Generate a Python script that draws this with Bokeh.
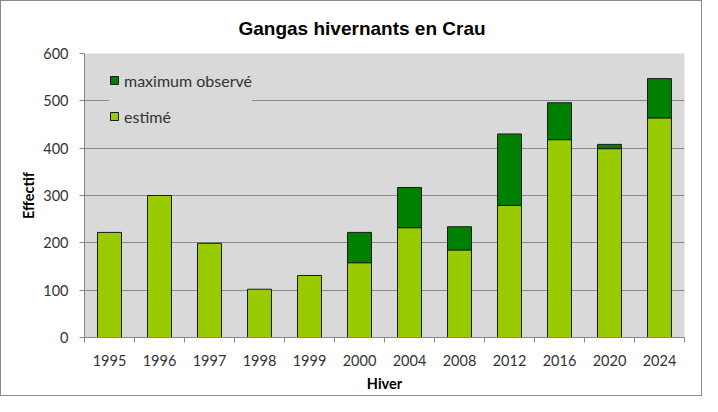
from bokeh.plotting import figure
from bokeh.models import FixedTicker, Legend, LegendItem, ColumnDataSource, Range1d
from bokeh.embed import file_html
from bokeh.resources import INLINE

# ---- data ----
years = ["1995", "1996", "1997", "1998", "1999", "2000", "2004", "2008", "2012", "2016", "2020", "2024"]
estime = [222, 300, 199, 102, 131, 158, 232, 185, 279, 418, 399, 464]
maximum = [None, None, None, None, None, 222, 317, 234, 430, 496, 408, 547]
y_ticks = [0, 100, 200, 300, 400, 500, 600]

LIGHT = "#99CC00"
DARK = "#008000"
FONT = "Lato"

n = len(years)
centers = [i + 0.5 for i in range(n)]
bounds = [float(i) for i in range(n + 1)]

src_est = ColumnDataSource(dict(x=centers, top=estime, bottom=[0] * n))
mx_x, mx_top, mx_bot = [], [], []
for c, e, m in zip(centers, estime, maximum):
    if m is not None:
        mx_x.append(c)
        mx_top.append(m)
        mx_bot.append(e)
src_max = ColumnDataSource(dict(x=mx_x, top=mx_top, bottom=mx_bot))

p = figure(width=702, height=396, output_backend="svg", toolbar_location=None,
           x_range=Range1d(0, n), y_range=Range1d(0, 600),
           min_border_left=83, min_border_right=19, min_border_top=52, min_border_bottom=60)
p.styles = {"border": "1px solid #8a8a8a"}

p.background_fill_color = "#D9D9D9"
p.border_fill_color = "white"
p.outline_line_color = None

r_est = p.vbar(x="x", top="top", bottom="bottom", width=0.48, source=src_est,
               fill_color=LIGHT, line_color="#1a1a1a", line_width=1)
r_max = p.vbar(x="x", top="top", bottom="bottom", width=0.48, source=src_max,
               fill_color=DARK, line_color="#1a1a1a", line_width=1)

# title
p.title.text = "Gangas hivernants en Crau"
p.title.text_font = "Liberation Sans"
p.title.text_font_size = "19px"
p.title.text_font_style = "bold"
p.title.text_color = "black"
p.title.align = "left"
p.title.offset = 154
p.title.standoff = 29

# grid
p.xgrid.grid_line_color = None
p.ygrid.grid_line_color = "#8a8a8a"
p.ygrid.grid_line_width = 1

# y axis
ya = p.yaxis[0]
ya.ticker = FixedTicker(ticks=y_ticks)
ya.axis_line_color = "#868686"
ya.major_tick_line_color = "#868686"
ya.major_tick_out = 5
ya.major_tick_in = 0
ya.minor_tick_line_color = None
ya.major_label_text_font = FONT
ya.major_label_text_font_size = "14.5px"
ya.major_label_text_color = "#333333"
ya.major_label_standoff = 11
ya.axis_label = "Effectif"
ya.axis_label_text_font = FONT
ya.axis_label_text_font_size = "14.5px"
ya.axis_label_text_font_style = "bold"
ya.axis_label_text_color = "black"
ya.axis_label_standoff = 3

# x axis
xa = p.xaxis[0]
xa.ticker = FixedTicker(ticks=centers, minor_ticks=bounds)
xa.major_label_overrides = {c: y for c, y in zip(centers, years)}
xa.axis_line_color = "#868686"
xa.major_tick_line_color = None
xa.major_tick_out = 0
xa.major_tick_in = 0
xa.minor_tick_line_color = "#868686"
xa.minor_tick_out = 5
xa.minor_tick_in = 0
xa.major_label_text_font = FONT
xa.major_label_text_font_size = "14.5px"
xa.major_label_text_color = "#333333"
xa.major_label_standoff = 12
xa.axis_label = "Hiver"
xa.axis_label_text_font = FONT
xa.axis_label_text_font_size = "14.5px"
xa.axis_label_text_font_style = "bold"
xa.axis_label_text_color = "black"
xa.axis_label_standoff = 6

legend = Legend(items=[LegendItem(label="maximum observé", renderers=[r_max]),
                       LegendItem(label="estimé", renderers=[r_est])],
                location=(25, 211))
legend.background_fill_color = "#D9D9D9"
legend.background_fill_alpha = 1
legend.border_line_color = None
legend.padding = 10
legend.spacing = 16
legend.glyph_width = 10
legend.glyph_height = 10
legend.label_standoff = 5
legend.label_height = 20
legend.label_text_font = FONT
legend.label_text_font_size = "16px"
legend.label_text_color = "#333333"
legend.margin = 0
p.add_layout(legend, "center")

open("out.html", "w").write(file_html(p, INLINE))
